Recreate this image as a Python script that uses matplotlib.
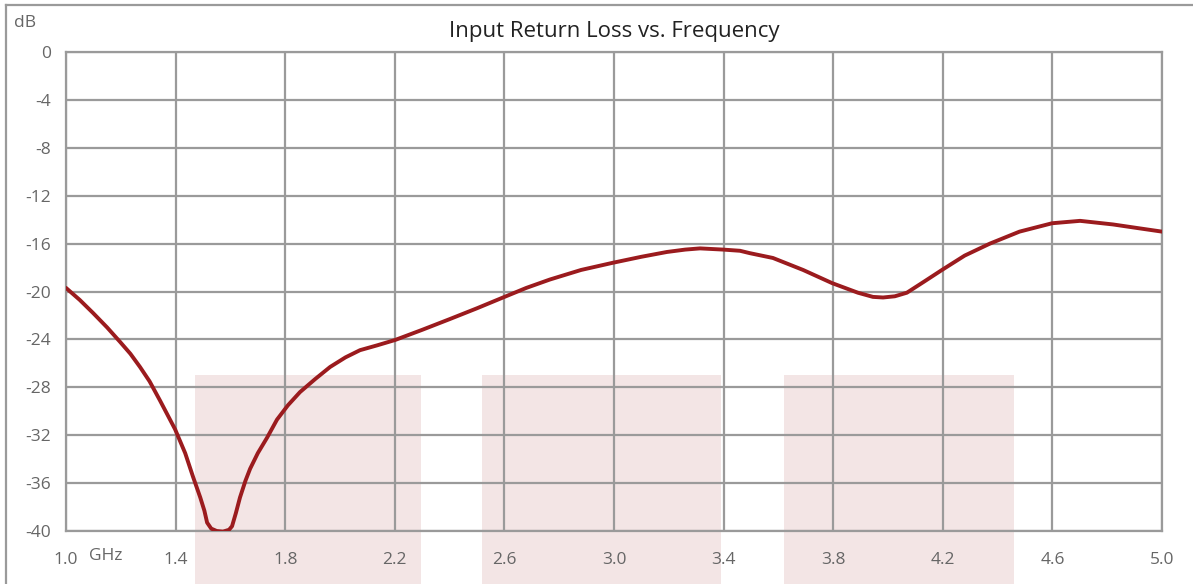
import matplotlib.pyplot as plt
from matplotlib.patches import Rectangle
from matplotlib.lines import Line2D

# frequency (GHz) and return loss (dB)
freq = [1.0, 1.05, 1.099, 1.15, 1.197, 1.235, 1.270, 1.305, 1.343, 1.398,
        1.435, 1.464, 1.49, 1.505, 1.515, 1.53, 1.550, 1.573, 1.595, 1.606,
        1.620, 1.635, 1.655, 1.672, 1.700, 1.734, 1.770, 1.81, 1.854, 1.91,
        1.964, 2.020, 2.073, 2.135, 2.201, 2.300, 2.401, 2.500, 2.595, 2.680,
        2.766, 2.880, 2.996, 3.100, 3.193, 3.260, 3.314, 3.398, 3.460, 3.496,
        3.580, 3.690, 3.796, 3.890, 3.945, 3.982, 4.025, 4.069, 4.130, 4.197,
        4.280, 4.372, 4.480, 4.599, 4.701, 4.821, 4.91, 5.0]
loss = [-19.7, -20.7, -21.8, -23.0, -24.2, -25.2, -26.3, -27.5, -29.1, -31.5,
        -33.5, -35.5, -37.2, -38.3, -39.3, -39.8, -40.0, -40.05, -39.9, -39.6,
        -38.5, -37.2, -35.8, -34.8, -33.5, -32.2, -30.7, -29.5, -28.4, -27.3,
        -26.3, -25.5, -24.9, -24.5, -24.05, -23.2, -22.3, -21.4, -20.5, -19.7,
        -19.0, -18.2, -17.6, -17.1, -16.7, -16.5, -16.4, -16.5, -16.6, -16.8,
        -17.2, -18.2, -19.3, -20.1, -20.45, -20.5, -20.4, -20.1, -19.2, -18.2,
        -17.0, -16.0, -15.0, -14.3, -14.1, -14.4, -14.7, -15.0]

# shaded bands (start, end) in GHz, top level in dB
bands = [(1.47, 2.295), (2.52, 3.39), (3.62, 4.46)]
band_top = -27

xticks = [1.0, 1.4, 1.8, 2.2, 2.6, 3.0, 3.4, 3.8, 4.2, 4.6, 5.0]
yticks = [0, -4, -8, -12, -16, -20, -24, -28, -32, -36, -40]

plt.rcParams['font.family'] = ['Open Sans', 'DejaVu Sans']

fig = plt.figure(figsize=(11.93, 5.84), dpi=100)
ax = fig.add_axes([66 / 1193, 1 - 531 / 584, (1162 - 66) / 1193, (531 - 52) / 584])

grid_c = '#9a9a9a'
for a, b in bands:
    ax.add_patch(Rectangle((a, band_top), b - a, -20, facecolor='#f3e5e5',
                           edgecolor='none', zorder=0, clip_on=False))

ax.plot(freq, loss, color='#9b1b1e', lw=2.8, zorder=3,
        solid_capstyle='round', solid_joinstyle='round')

ax.set_xlim(1.0, 5.0)
ax.set_ylim(-40, 0)
ax.set_xticks(xticks)
ax.set_xticklabels([f'{t:.1f}' for t in xticks])
ax.set_yticks(yticks)
ax.set_yticklabels([str(t) for t in yticks])
ax.grid(True, color=grid_c, lw=1.6, zorder=1)
ax.set_axisbelow(False)
for s in ax.spines.values():
    s.set_color(grid_c)
    s.set_linewidth(1.6)
    s.set_zorder(2)
ax.tick_params(length=0, labelsize=12.5, colors='#666666')
ax.tick_params(axis='x', pad=15)
ax.tick_params(axis='y', pad=11)

ax.set_title('Input Return Loss vs. Frequency', fontsize=16, color='#222222', pad=11)
fig.text(106 / 1193, 1 - 556 / 584, 'GHz', fontsize=12.5, color='#666666', ha='center', va='center')
fig.text(25 / 1193, 1 - 23 / 584, 'dB', fontsize=12.5, color='#666666', ha='center', va='center')

# outer chart border (top and left visible)
fig.add_artist(Line2D([6 / 1193, 1], [1 - 5 / 584, 1 - 5 / 584], color=grid_c, lw=1.6))
fig.add_artist(Line2D([6 / 1193, 6 / 1193], [0, 1 - 5 / 584], color=grid_c, lw=1.6))

fig.savefig('out.png', dpi=100)
